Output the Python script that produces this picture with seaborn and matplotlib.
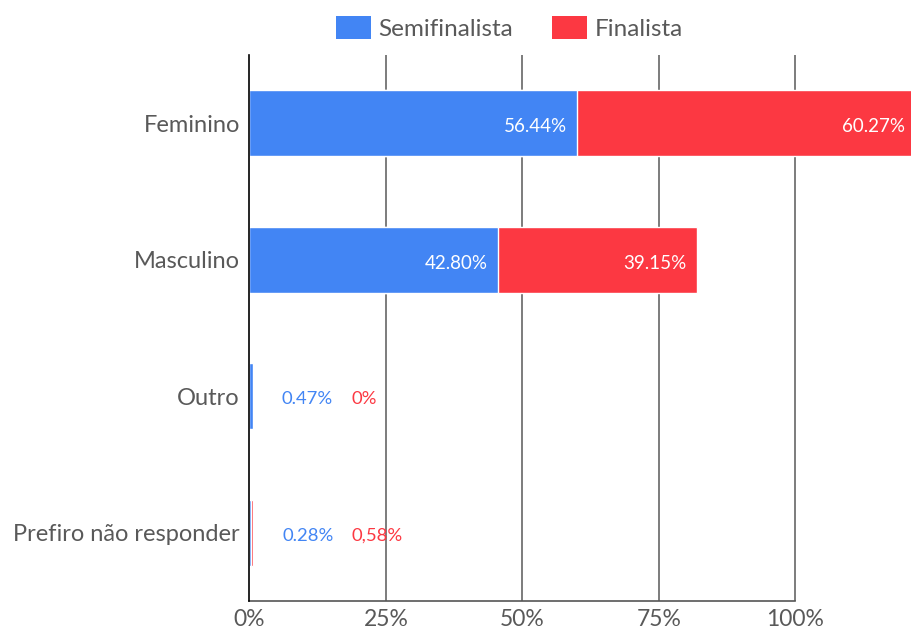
import matplotlib
matplotlib.use("Agg")
import matplotlib.pyplot as plt
from matplotlib.patches import Patch
import seaborn as sns
import pandas as pd

categories = ["Feminino", "Masculino", "Outro", "Prefiro não responder"]
semifinal_len = [60.0, 45.5, 0.6, 0.2]
final_len = [62.0, 36.4, 0.0, 0.45]
semifinal_lbl = ["56.44%", "42.80%", "0.47%", "0.28%"]
final_lbl = ["60.27%", "39.15%", "0%", "0,58%"]
series_names = ["Semifinalista", "Finalista"]

BLUE = "#4285F4"
RED = "#FC3842"
GRAY = "#595959"

sns.set_theme(style="white")
plt.rcParams["font.family"] = ["Lato", "DejaVu Sans"]

df = pd.DataFrame({
    "cat": categories,
    "semi": semifinal_len,
    "total": [a + b for a, b in zip(semifinal_len, final_len)],
})

fig = plt.figure(figsize=(9.12, 6.3), dpi=100)
ax = fig.add_axes([249.5 / 912, 29 / 630, (912 - 249.5) / 912, (601 - 55) / 630])

sns.barplot(data=df, y="cat", x="total", color=RED, saturation=1, width=0.48,
            orient="h", ax=ax, zorder=3)
sns.barplot(data=df, y="cat", x="semi", color=BLUE, saturation=1, width=0.48,
            orient="h", ax=ax, zorder=3)

ax.set_xlim(0, (912 - 249.5) / 5.46)
ax.set_ylim(3.5, -0.5)
ax.set_xticks([0, 25, 50, 75, 100])
ax.set_xticklabels(["0%", "25%", "50%", "75%", "100%"])
ax.set_xlabel("")
ax.set_ylabel("")
for x in [25, 50, 75, 100]:
    ax.axvline(x, color="#666666", lw=1.2, zorder=1)

for s in ["top", "right"]:
    ax.spines[s].set_visible(False)
ax.spines["left"].set_color("black")
ax.spines["left"].set_linewidth(1.2)
ax.spines["left"].set_zorder(4)
ax.spines["bottom"].set_color("#555555")
ax.spines["bottom"].set_linewidth(1.2)
ax.spines["bottom"].set_bounds(0, 100)

ax.tick_params(axis="x", length=0, pad=6, labelsize=16.5, labelcolor=GRAY)
ax.tick_params(axis="y", length=0, pad=7, labelsize=17.0, labelcolor=GRAY)

for i in range(len(categories)):
    s = semifinal_len[i]
    f = final_len[i]
    if s > 5:
        ax.annotate(semifinal_lbl[i], (s, i), xytext=(-7.5, -2.5), textcoords="offset points",
                    ha="right", va="center", color="white", fontsize=13.5, zorder=5)
        ax.annotate(final_lbl[i], (s + f, i), xytext=(-7.5, -2.5), textcoords="offset points",
                    ha="right", va="center", color="white", fontsize=13.5, zorder=5,
                    annotation_clip=False)
    else:
        ax.annotate(semifinal_lbl[i], (s + f, i), xytext=(21, -2.2), textcoords="offset points",
                    ha="left", va="center", color=BLUE, fontsize=13.3, zorder=5)
        ax.annotate(final_lbl[i], (s + f, i), xytext=(71, -2.2), textcoords="offset points",
                    ha="left", va="center", color=RED, fontsize=13.3, zorder=5)

handles = [Patch(facecolor=BLUE, edgecolor="none"), Patch(facecolor=RED, edgecolor="none")]
fig.legend(handles, series_names, loc="center", bbox_to_anchor=(0.5587, 1 - 28 / 630),
           ncol=2, frameon=False, fontsize=17.5, labelcolor=GRAY,
           handlelength=1.44, handleheight=1.07, handletextpad=0.3, columnspacing=1.6)

fig.savefig("out.png", dpi=100)
